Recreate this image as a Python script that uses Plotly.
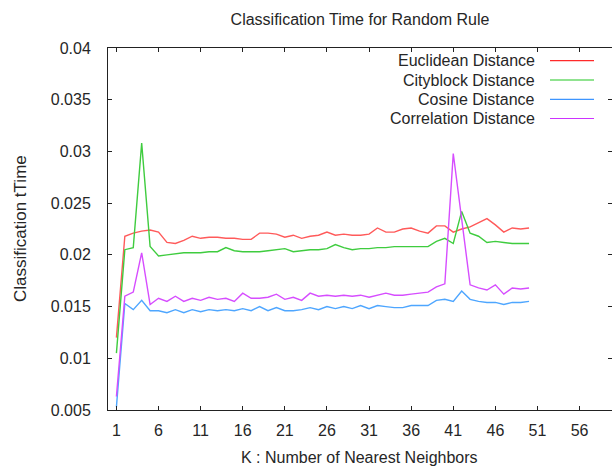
import plotly.graph_objects as go

k_values = list(range(1, 51))

euclidean = [0.0120, 0.0218, 0.0221, 0.0223, 0.0224, 0.0222, 0.0212, 0.0211, 0.0214, 0.0218,
             0.0216, 0.0217, 0.0217, 0.0216, 0.0216, 0.0215, 0.0215, 0.0221, 0.0221, 0.0220,
             0.0217, 0.0219, 0.0216, 0.0218, 0.0219, 0.0222, 0.0219, 0.0220, 0.0219, 0.0219,
             0.0220, 0.0226, 0.0222, 0.0222, 0.0225, 0.0226, 0.0223, 0.0221, 0.0228, 0.0228,
             0.0222, 0.0225, 0.0227, 0.0231, 0.0235, 0.0229, 0.0222, 0.0226, 0.0225, 0.0226]

cityblock = [0.0105, 0.0205, 0.0207, 0.0308, 0.0208, 0.0199, 0.0200, 0.0201, 0.0202, 0.0202,
             0.0202, 0.0203, 0.0203, 0.0207, 0.0204, 0.0203, 0.0203, 0.0203, 0.0204, 0.0205,
             0.0206, 0.0203, 0.0204, 0.0205, 0.0205, 0.0206, 0.0210, 0.0207, 0.0205, 0.0206,
             0.0206, 0.0207, 0.0207, 0.0208, 0.0208, 0.0208, 0.0208, 0.0208, 0.0213, 0.0216,
             0.0211, 0.0242, 0.0221, 0.0218, 0.0212, 0.0213, 0.0212, 0.0211, 0.0211, 0.0211]

cosine = [0.0053, 0.0153, 0.0147, 0.0156, 0.0146, 0.0146, 0.0144, 0.0147, 0.0144, 0.0147,
          0.0145, 0.0147, 0.0146, 0.0147, 0.0146, 0.0148, 0.0146, 0.0150, 0.0146, 0.0149,
          0.0146, 0.0146, 0.0147, 0.0149, 0.0147, 0.0150, 0.0148, 0.0150, 0.0148, 0.0151,
          0.0148, 0.0151, 0.0150, 0.0149, 0.0149, 0.0151, 0.0151, 0.0151, 0.0156, 0.0157,
          0.0155, 0.0165, 0.0157, 0.0155, 0.0154, 0.0154, 0.0152, 0.0154, 0.0154, 0.0155]

correlation = [0.0063, 0.0160, 0.0164, 0.0202, 0.0152, 0.0158, 0.0155, 0.0160, 0.0155, 0.0158,
               0.0156, 0.0159, 0.0157, 0.0158, 0.0155, 0.0163, 0.0158, 0.0158, 0.0159, 0.0162,
               0.0157, 0.0159, 0.0156, 0.0163, 0.0160, 0.0161, 0.0160, 0.0161, 0.0160, 0.0161,
               0.0159, 0.0161, 0.0163, 0.0161, 0.0161, 0.0162, 0.0163, 0.0164, 0.0169, 0.0172,
               0.0298, 0.0236, 0.0171, 0.0168, 0.0166, 0.0171, 0.0162, 0.0168, 0.0167, 0.0168]

series_names = ["Euclidean Distance", "Cityblock Distance", "Cosine Distance", "Correlation Distance"]
series_values = [euclidean, cityblock, cosine, correlation]
series_colors = ["#ff5a5a", "#3fcc3f", "#4ea6ff", "#d64dff"]
legend_colors = ["#ff2a2a", "#22c822", "#3d95ff", "#cc33ff"]

x_tick_vals = [1, 6, 11, 16, 21, 26, 31, 36, 41, 46, 51, 56]
y_tick_vals = [0.005, 0.01, 0.015, 0.02, 0.025, 0.03, 0.035, 0.04]
y_tick_text = ["0.005", "0.01", "0.015", "0.02", "0.025", "0.03", "0.035", "0.04"]

W, H = 612, 468
ML, MR, MT, MB = 108, 0, 48, 58
PW, PH = W - ML - MR, H - MT - MB


def px(x):
    return (x - ML) / PW


def py(y):
    return 1 - (y - MT) / PH


FONT = "Liberation Sans, Arial, sans-serif"
TXT = "#262626"

fig = go.Figure()
for name, vals, col in zip(series_names, series_values, series_colors):
    fig.add_trace(go.Scatter(x=k_values, y=vals, mode="lines", name=name,
                             line=dict(color=col, width=1.4), showlegend=False))

# right-side inward ticks (gnuplot mirror ticks) via overlay axis
fig.add_trace(go.Scatter(x=[None], y=[None], yaxis="y2", showlegend=False))

fig.update_layout(
    width=W, height=H,
    margin=dict(l=ML, r=MR, t=MT, b=MB),
    paper_bgcolor="white", plot_bgcolor="white",
    font=dict(family=FONT, size=16, color=TXT),
    title=dict(text="Classification Time for Random Rule", x=0.5, xref="paper",
               xanchor="center", y=1 - 19 / H, yanchor="middle", yref="container",
               font=dict(size=16, color=TXT)),
    xaxis=dict(range=[0, 59.85], tickvals=x_tick_vals, ticks="inside", ticklen=4,
               tickcolor="#222", showline=True, linecolor="#222", linewidth=1,
               mirror="ticks", showgrid=False, zeroline=False,
               tickfont=dict(size=16, color=TXT), ticklabelstandoff=6),
    yaxis=dict(range=[0.005, 0.04], tickvals=y_tick_vals, ticktext=y_tick_text,
               ticks="inside", ticklen=4, tickcolor="#222", showline=True,
               linecolor="#222", linewidth=1, mirror=False, showgrid=False,
               zeroline=False, tickfont=dict(size=16, color=TXT), ticklabelstandoff=13),
    yaxis2=dict(range=[0.005, 0.04], tickvals=y_tick_vals, overlaying="y", side="right",
                ticks="inside", ticklen=4, tickcolor="#222", showline=False,
                showticklabels=False, showgrid=False, zeroline=False),
)

# axis titles
fig.add_annotation(text="K : Number of Nearest Neighbors", x=px(359), y=py(457),
                   xref="paper", yref="paper", showarrow=False,
                   xanchor="center", yanchor="middle", font=dict(size=16, color=TXT))
fig.add_annotation(text="Classification tTime", x=px(20), y=py(229),
                   xref="paper", yref="paper", showarrow=False, textangle=-90,
                   xanchor="center", yanchor="middle", font=dict(size=17, color=TXT))

# gnuplot-style legend: text right-aligned, line sample on the right
legend_rows = [60.7, 80, 99.3, 118.5]
for name, col, ry in zip(series_names, legend_colors, legend_rows):
    fig.add_annotation(text=name, x=px(537), y=py(ry), xref="paper", yref="paper",
                       showarrow=False, xanchor="right", yanchor="middle",
                       font=dict(size=16, color=TXT))
    fig.add_shape(type="line", xref="paper", yref="paper",
                  x0=px(550), x1=px(594), y0=py(ry), y1=py(ry),
                  line=dict(color=col, width=1.2))

fig.write_html("out.html", config={"displayModeBar": False},
               post_script="document.body.style.margin='0';document.body.style.overflow='hidden';")
